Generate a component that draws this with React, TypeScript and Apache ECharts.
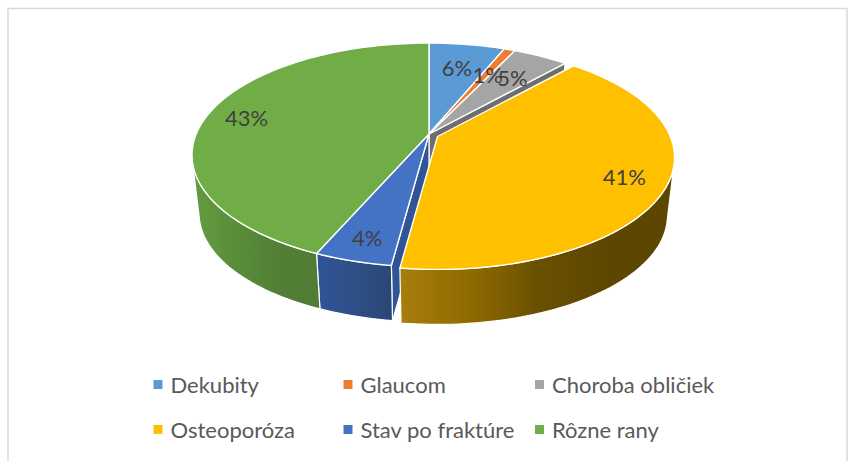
import React, { useEffect, useRef } from "react";
import * as echarts from "echarts";

const categories = ["Dekubity", "Glaucom", "Choroba obličiek", "Osteoporóza", "Stav po fraktúre", "Rôzne rany"];
const shares = [6.2, 0.9, 4.5, 40.5, 4.45, 43.45];
const legendColumns = [["Dekubity", "Osteoporóza"], ["Glaucom", "Stav po fraktúre"], ["Choroba obličiek", "Rôzne rany"]];

const topColors = ["#5B9BD5", "#ED7D31", "#A5A5A5", "#FFC000", "#4472C4", "#70AD47"];
const wallColors = ["#3F72A0", "#B05A20", "#6E6E6E", "#7F6000", "#2F5597", "#4E7A32"];
const sideStops = [
  ["#3F72A0", "#3F72A0"],
  ["#B05A20", "#B05A20"],
  ["#6E6E6E", "#6E6E6E"],
  ["#A87E0C", "#8F6B00", "#6A5000", "#5D4700", "#5D4700"],
  ["#2F5597", "#2E4F86", "#2A4674"],
  ["#629C42", "#5A8E39", "#527F35", "#507C33"],
];
const labelRadius = [0.7, 0.67, 0.7, 0.83, 0.84, 0.83];
const labelShift = [[0, -1], [2, 0], [2, 0], [-1, 0], [0, 0], [1, 1]];
const explodedIndex = 3;
const explodeOffset = [8.5, 2.5];

const FONT = "Lato, Carlito, 'Open Sans', sans-serif";
const CX = 429, CY = 134, RX = 232.8, RY = 108, K = 0.1875, SHRINK = 0.97, DEPTH = 59;
const RAD = Math.PI / 180;

function project(deg: number, rho: number, bottom: boolean, off: number[]) {
  const X = rho * Math.sin(deg * RAD);
  const Y = -rho * Math.cos(deg * RAD);
  const w = 1 - K * Y;
  let x = CX + (RX * X) / w;
  let y = CY + (RY * Y) / w;
  if (bottom) {
    x = CX + SHRINK * (x - CX);
    y = CY + DEPTH + SHRINK * (y - CY);
  }
  return [x + off[0], y + off[1]];
}

function arc(a: number, b: number, bottom: boolean, off: number[]) {
  const n = Math.max(2, Math.ceil(Math.abs(b - a) / 1.5));
  const pts: number[][] = [];
  for (let i = 0; i <= n; i++) pts.push(project(a + ((b - a) * i) / n, 1, bottom, off));
  return pts;
}

const total = shares.reduce((s, v) => s + v, 0);

function makeRenderItem(index: number) {
  return (_params: any, api: any) => {
    const value = api.value(0);
    let before = 0;
    for (let i = 0; i < index; i++) before += shares[i];
    const a = (before / total) * 360;
    const b = ((before + value) / total) * 360;
    const off = index === explodedIndex ? explodeOffset : [0, 0];
    const children: any[] = [];
    const stroke = { stroke: "#FFFFFF", lineWidth: 1.2 };

    const wallAt = (deg: number) => {
      const rim = project(deg, 1, false, off);
      const rimB = project(deg, 1, true, off);
      const c = project(0, 0, false, off);
      const cB = project(0, 0, true, off);
      children.push({
        type: "polygon",
        z2: 1,
        shape: { points: [c, rim, rimB, cB] },
        style: { fill: wallColors[index], ...stroke },
      });
    };
    if (index === explodedIndex - 1) wallAt(b);
    if (index === explodedIndex + 1) wallAt(a);

    const s = Math.max(a, 105);
    const e = Math.min(b, 255);
    if (e > s) {
      const stops = sideStops[index];
      const colorStops = stops.map((color, i) => ({ offset: i / (stops.length - 1), color }));
      children.push({
        type: "polygon",
        z2: 2,
        shape: { points: [...arc(s, e, false, off), ...arc(e, s, true, off)] },
        style: { fill: new echarts.graphic.LinearGradient(0, 0, 1, 0, colorStops), ...stroke },
      });
    }

    children.push({
      type: "polygon",
      z2: 3,
      shape: { points: [project(0, 0, false, off), ...arc(a, b, false, off)] },
      style: { fill: topColors[index], stroke: "#FFFFFF", lineWidth: 1.4 },
    });

    const mid = (a + b) / 2;
    const p = project(mid, labelRadius[index], false, off);
    children.push({
      type: "text",
      z2: 5 + index,
      x: p[0] + labelShift[index][0],
      y: p[1] + labelShift[index][1],
      style: {
        text: `${Math.round(value)}%`,
        align: "center",
        verticalAlign: "middle",
        fontFamily: FONT,
        fontSize: 22,
        fill: "#404040",
      },
    });
    return { type: "group", children };
  };
}

export default function App() {
  const ref = useRef<HTMLDivElement>(null);
  useEffect(() => {
    const chart = echarts.init(ref.current!, null, { renderer: "svg" });
    const lefts = [153.5, 343.5, 535];
    chart.setOption({
      animation: false,
      backgroundColor: "#FFFFFF",
      graphic: [
        {
          type: "rect",
          silent: true,
          shape: { x: 8, y: 8.5, width: 839, height: 470 },
          style: { fill: "none", stroke: "#D9D9D9", lineWidth: 1.5 },
        },
      ],
      legend: legendColumns.map((data, i) => ({
        data,
        orient: "vertical",
        left: lefts[i],
        top: 372,
        itemWidth: 9,
        itemHeight: 9,
        itemGap: 20,
        icon: "rect",
        padding: 0,
        selectedMode: false,
        textStyle: { fontFamily: FONT, fontSize: 22, color: "#595959", padding: [0, 0, 0, 3], lineHeight: 25 },
      })),
      series: categories.map((name, i) => ({
        type: "custom",
        name,
        coordinateSystem: "none",
        silent: true,
        clip: false,
        itemStyle: { color: topColors[i] },
        data: [[shares[i]]],
        renderItem: makeRenderItem(i),
      })),
    });
    return () => chart.dispose();
  }, []);
  return <div ref={ref} style={{ position: "absolute", left: 0, top: 0, width: 848, height: 461 }} />;
}
